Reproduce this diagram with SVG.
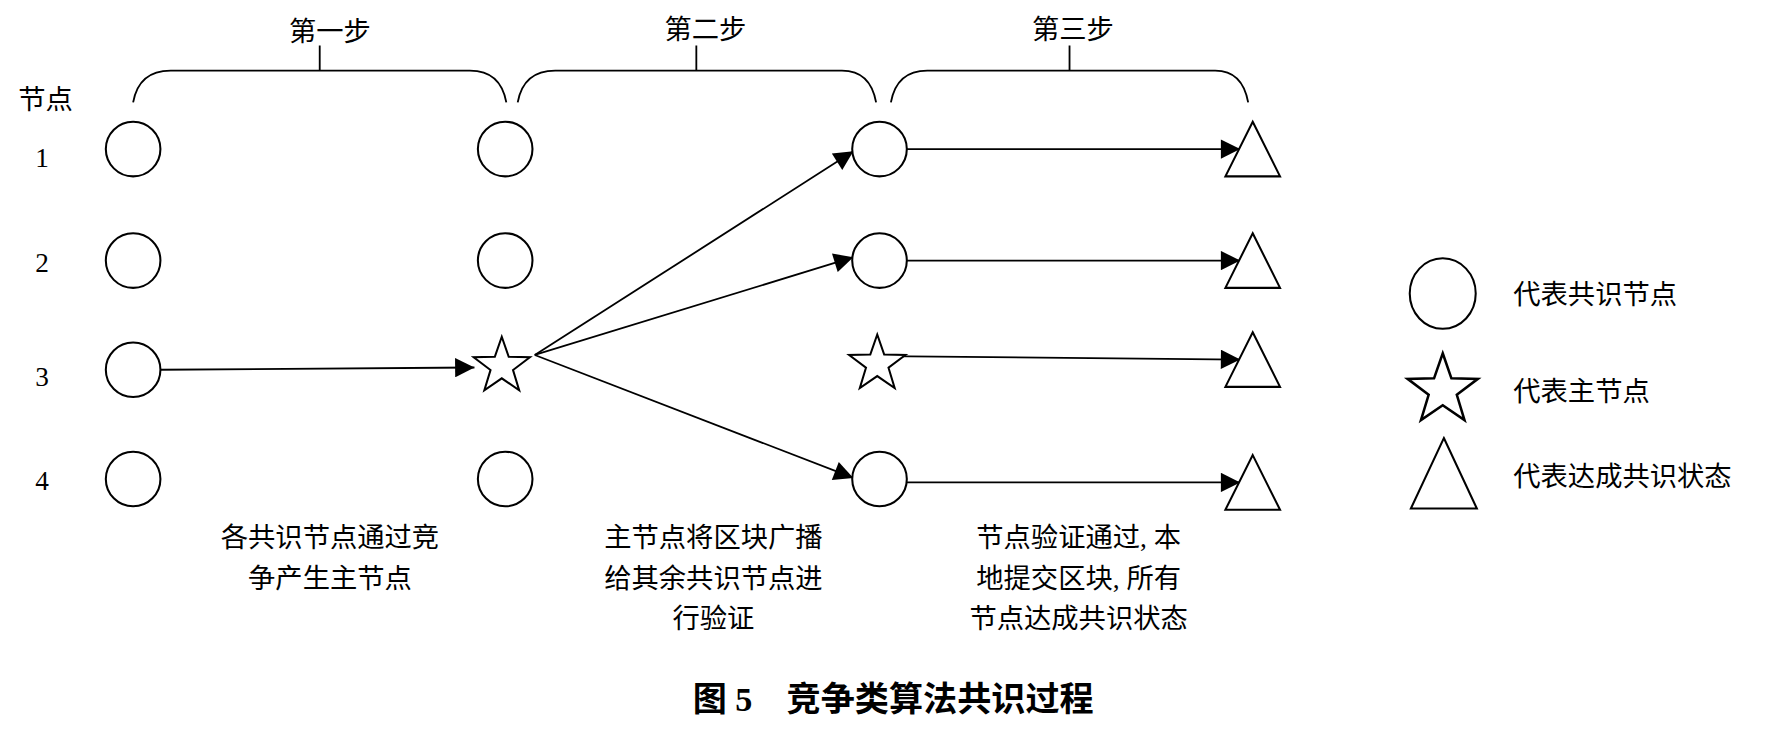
<svg xmlns="http://www.w3.org/2000/svg" width="1784" height="734" viewBox="0 0 1784 734">
<style>
.s{fill:#fff;stroke:#000;stroke-width:1.8}
.b{fill:none;stroke:#000;stroke-width:1.6}
.l{stroke:#000;stroke-width:1.6;fill:none;marker-end:url(#a)}
text{font-family:"Liberation Serif","Noto Sans CJK SC",serif;font-size:24px;fill:#000}
.c{text-anchor:middle}
</style>
<defs>
<marker id="a" viewBox="0 0 10 10" refX="10" refY="5" markerWidth="20" markerHeight="17" markerUnits="userSpaceOnUse" orient="auto"><path d="M0,0L10,5L0,10z" fill="#000"/></marker>
<path id="st" d="M0,-26 L6.1,-8.4 24.7,-8 9.9,3.2 15.3,21 0,10.5 -15.3,21 -9.9,3.2 -24.7,-8 -6.1,-8.4z"/>
</defs>
<rect width="1784" height="734" fill="#fff"/>
<g transform="scale(1.1378)">
<g id="headers">
<text class="c" x="290" y="36">第一步</text>
<text class="c" x="620" y="34">第二步</text>
<text class="c" x="943" y="34">第三步</text>
<path class="b" d="M117,90 Q122,62 150,62 H413 Q440,62 445,90 M281,62 V40"/>
<path class="b" d="M455,90 Q460,62 488,62 H740 Q765,62 770,90 M612,62 V40"/>
<path class="b" d="M783,90 Q788,62 815,62 H1068 Q1092,62 1097,90 M940,62 V40"/>
<text class="c" x="40" y="96">节点</text>
<text class="c" x="37" y="147">1</text>
<text class="c" x="37" y="239">2</text>
<text class="c" x="37" y="339">3</text>
<text class="c" x="37" y="431">4</text>
</g>
<g id="connectors">
<path class="l" d="M141,325 L417,323"/>
<path class="l" d="M470,312 L750,133"/>
<path class="l" d="M470,312 L750,226"/>
<path class="l" d="M470,312 L750,420"/>
<path class="l" d="M797,131 L1090,131"/>
<path class="l" d="M797,229 L1090,229"/>
<path class="l" d="M775,313 L1090,316"/>
<path class="l" d="M797,424 L1090,424"/>
</g>
<g id="col1">
<circle class="s" cx="117" cy="131" r="24"/><circle class="s" cx="117" cy="229" r="24"/><circle class="s" cx="117" cy="325" r="24"/><circle class="s" cx="117" cy="421" r="24"/>
</g>
<g id="col2">
<circle class="s" cx="444" cy="131" r="24"/><circle class="s" cx="444" cy="229" r="24"/><use href="#st" class="s" x="441" y="322"/><circle class="s" cx="444" cy="421" r="24"/>
</g>
<g id="col3">
<circle class="s" cx="773" cy="131" r="24"/><circle class="s" cx="773" cy="229" r="24"/><use href="#st" class="s" x="771" y="320"/><circle class="s" cx="773" cy="421" r="24"/>
</g>
<g id="col4">
<path class="s" d="M1101,107 L1125,155 H1077z"/><path class="s" d="M1101,205 L1125,253 H1077z"/><path class="s" d="M1101,292 L1125,340 H1077z"/><path class="s" d="M1101,400 L1125,448 H1077z"/>
</g>
<g id="legend">
<ellipse class="s" cx="1268" cy="258" rx="29" ry="31"/>
<use href="#st" class="s" transform="translate(1268,343) scale(1.25)"/>
<path class="s" d="M1269,385 L1298,447 H1240z"/>
<text x="1330" y="267">代表共识节点</text>
<text x="1330" y="352">代表主节点</text>
<text x="1330" y="427">代表达成共识状态</text>
</g>
<g id="notes">
<text class="c" x="290" y="481">各共识节点通过竞</text>
<text class="c" x="290" y="517">争产生主节点</text>
<text class="c" x="627" y="481">主节点将区块广播</text>
<text class="c" x="627" y="517">给其余共识节点进</text>
<text class="c" x="627" y="552">行验证</text>
<text class="c" x="948" y="481">节点验证通过, 本</text>
<text class="c" x="948" y="517">地提交区块, 所有</text>
<text class="c" x="948" y="552">节点达成共识状态</text>
<text class="c" x="785" y="625" style="font-size:30px;font-weight:bold">图 5　竞争类算法共识过程</text>
</g>
</g>
</svg>
